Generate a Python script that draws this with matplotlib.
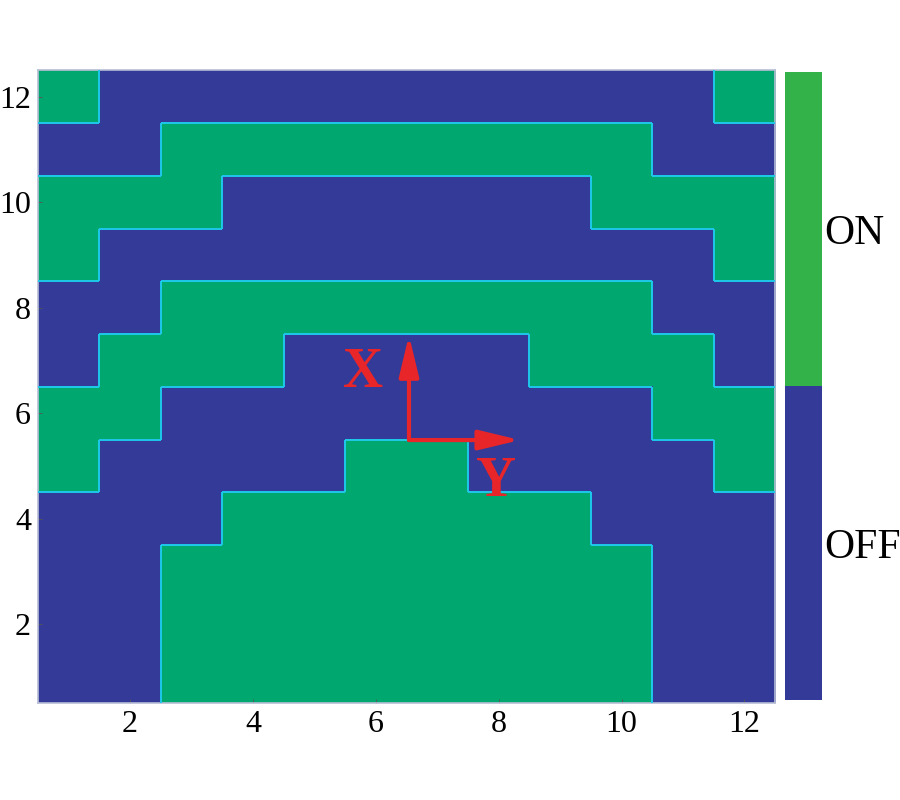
import numpy as np
import matplotlib
matplotlib.use("Agg")
import matplotlib.pyplot as plt
from matplotlib.colors import ListedColormap, BoundaryNorm
from matplotlib.collections import LineCollection
from matplotlib.cm import ScalarMappable

# ON/OFF state of each cell, listed from the top row (12) down to row 1
rows = [
    [1, 0, 0, 0, 0, 0, 0, 0, 0, 0, 0, 1],
    [0, 0, 1, 1, 1, 1, 1, 1, 1, 1, 0, 0],
    [1, 1, 1, 0, 0, 0, 0, 0, 0, 1, 1, 1],
    [1, 0, 0, 0, 0, 0, 0, 0, 0, 0, 0, 1],
    [0, 0, 1, 1, 1, 1, 1, 1, 1, 1, 0, 0],
    [0, 1, 1, 1, 0, 0, 0, 0, 1, 1, 1, 0],
    [1, 1, 0, 0, 0, 0, 0, 0, 0, 0, 1, 1],
    [1, 0, 0, 0, 0, 1, 1, 0, 0, 0, 0, 1],
    [0, 0, 0, 1, 1, 1, 1, 1, 1, 0, 0, 0],
    [0, 0, 1, 1, 1, 1, 1, 1, 1, 1, 0, 0],
    [0, 0, 1, 1, 1, 1, 1, 1, 1, 1, 0, 0],
    [0, 0, 1, 1, 1, 1, 1, 1, 1, 1, 0, 0],
]
x_ticks = [2, 4, 6, 8, 10, 12]
y_ticks = [2, 4, 6, 8, 10, 12]
state_labels = ["OFF", "ON"]

# arrow annotation (data coords)
arrow_origin = (6.54, 5.49)
arrow_x_tip = (6.54, 7.48)
arrow_y_tip = (8.35, 5.49)

BLUE = "#333a98"
GREEN = "#00a870"
BAR_GREEN = "#33b24a"
EDGE = "#1ec8ea"
RED = "#e8262a"

plt.rcParams["font.family"] = ["Liberation Serif", "DejaVu Serif"]

Z = np.array(rows)
n_rows, n_cols = Z.shape

fig = plt.figure(figsize=(9, 8), dpi=100)
ax = fig.add_axes([0.0422, 0.121, 0.819, 0.791])

ax.imshow(Z, cmap=ListedColormap([BLUE, GREEN]), vmin=0, vmax=1,
          extent=(0.5, n_cols + 0.5, 0.5, n_rows + 0.5), origin="upper",
          aspect="auto", interpolation="nearest")

# light cyan borders between ON and OFF cells
segs = []
for r in range(n_rows):
    for c in range(n_cols):
        yc = n_rows - r
        xc = c + 1
        if c + 1 < n_cols and Z[r, c] != Z[r, c + 1]:
            segs.append([(xc + 0.5, yc - 0.5), (xc + 0.5, yc + 0.5)])
        if r + 1 < n_rows and Z[r, c] != Z[r + 1, c]:
            segs.append([(xc - 0.5, yc - 0.5), (xc + 0.5, yc - 0.5)])
ax.add_collection(LineCollection(segs, colors=EDGE, linewidths=1.4, zorder=3))

ax.set_xlim(0.5, n_cols + 0.5)
ax.set_ylim(0.5, n_rows + 0.5)
ax.set_xticks(x_ticks)
ax.set_yticks(y_ticks)
ax.tick_params(direction="in", length=3, width=0.6, color="#555555",
               labelsize=23, pad=5)
for s in ax.spines.values():
    s.set_color("#b8bed6")
    s.set_linewidth(1.2)

# red X / Y axes marker
arrow_kw = dict(arrowstyle="-|>,head_length=1.25,head_width=0.3", color=RED,
                lw=3, mutation_scale=20, shrinkA=0, shrinkB=0)
ax.annotate("", xy=arrow_x_tip, xytext=arrow_origin, arrowprops=arrow_kw, zorder=5)
ax.annotate("", xy=arrow_y_tip, xytext=arrow_origin, arrowprops=arrow_kw, zorder=5)
ax.text(5.79, 6.77, "X", color=RED, fontsize=40, fontweight="bold",
        ha="center", va="center", zorder=6)
ax.text(7.96, 4.70, "Y", color=RED, fontsize=40, fontweight="bold",
        ha="center", va="center", zorder=6)

# two-state colour bar
cax = fig.add_axes([0.872, 0.125, 0.041, 0.785])
sm = ScalarMappable(cmap=ListedColormap([BLUE, BAR_GREEN]),
                    norm=BoundaryNorm([-0.5, 0.5, 1.5], 2))
cb = fig.colorbar(sm, cax=cax, ticks=[0, 1])
cb.set_ticklabels(state_labels)
cb.outline.set_visible(False)
cb.minorticks_off()
cax.tick_params(which="both", length=0, labelsize=30, pad=2)

fig.savefig("out.png", dpi=100)
